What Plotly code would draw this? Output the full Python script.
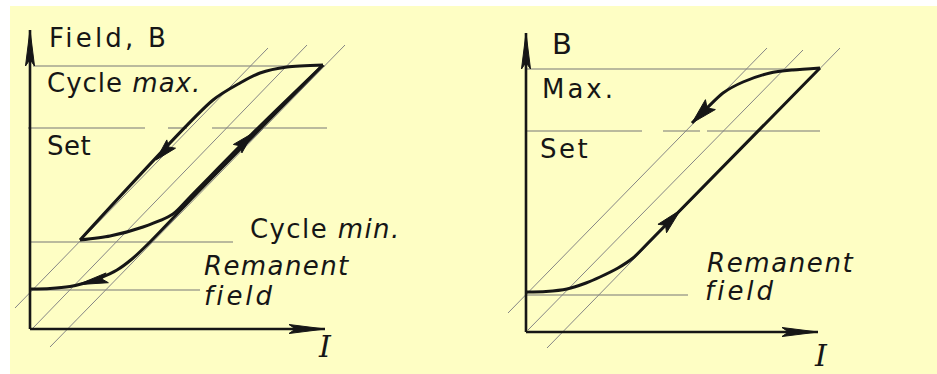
import numpy as np
import plotly.graph_objects as go

# ---------------- data (arbitrary units: I = current, B = field) ----------------
# Left panel: minor hysteresis cycle
L_outer_I = [0, 20, 40, 55, 70, 87, 102, 120, 170, 293]          # initial rise from remanent field
L_outer_B = [40, 40.5, 42.5, 46, 51, 59, 70, 87, 139, 264]
L_desc_I = [293, 257, 230, 210, 183, 50]                           # descending branch to cycle min
L_desc_B = [264, 262, 256, 246, 229, 89]
L_inner_I = [50, 80, 113, 143, 160, 228, 293]                      # ascending branch from cycle min
L_inner_B = [89, 93, 102, 115, 132, 201, 264]
L_levels = {"max": 263, "set": 201, "min": 87, "rem": 39}
L_level_ext = {"max": [(3, 295)], "set": [(-2, 115), (138, 157), (182, 297)],
               "min": [(0, 203)], "rem": [(0, 170)]}
L_diag_I = [(-15, 238), (3, 277), (20, 315)]
L_diag_B = [(21, 281), (1, 284), (-18, 284)]
L_axis_end = (295, 299)

# Right panel: full excursion
R_asc_I = [0, 20, 41, 60, 74, 92, 107, 124, 294]
R_asc_B = [40, 40.5, 43, 49, 55, 64, 74, 91, 264]
R_desc_I = [294, 267, 244, 217, 197, 180, 166]
R_desc_B = [264, 262, 259, 250, 239, 223, 209]
R_levels = {"max": 263, "set": 201, "rem": 37}
R_level_ext = {"max": [(0, 294)], "set": [(0, 116), (137, 174), (181, 294)], "rem": [(0, 162)]}
R_diag_I = [(-18, 241), (2, 277), (21, 314)]
R_diag_B = [(19, 284), (2, 282), (-16, 284)]
R_axis_end = (292, 299)

# labels: (text, I, B)
L_labels = [("Field, B", 17, 291), ("Cycle <i>max.</i>", 15, 246), ("Set", 15, 183),
            ("Cycle <i>min.</i>", 218, 100), ("<i>Remanent</i>", 172, 63), ("<i>field</i>", 172, 33)]
R_labels = [("B", 24, 288), ("Max.", 14, 243), ("Set", 12, 183),
            ("<i>Remanent</i>", 179, 69), ("<i>field</i>", 177, 41)]

# ---------------- styling ----------------
W, H = 937, 374
SPLIT = 468
INK = "#161616"
GUIDE = "#767676"
BG = "#FEFEC4"
FONT = "DejaVu Sans"
L_label_style = [(26, 3.2), (26, 1.0), (26, 0.5), (26, 1.4), (26, 1.4), (26, 3.0)]
R_label_style = [(29, 0), (26, 3.0), (26, 2.5), (26, 1.6), (26, 3.0)]

fig = go.Figure()


def locate(xs, ys, axis, value, sign):
    pts = np.column_stack([xs, ys]).astype(float)
    for i in range(len(pts) - 1):
        a, b = pts[i], pts[i + 1]
        v0, v1 = a[axis], b[axis]
        if v0 != v1 and (v0 - value) * (v1 - value) <= 0:
            t = (value - v0) / (v1 - v0)
            return a + t * (b - a), (b - a) * sign
    return pts[-1], (pts[-1] - pts[-2]) * sign


def arrow(tip, d, length, half, xa, ya):
    d = np.asarray(d, float)
    d = d / np.linalg.norm(d)
    p = np.array([-d[1], d[0]])
    tip = np.asarray(tip, float)
    base = tip - length * d
    notch = tip - 0.82 * length * d
    poly = [tip, base + half * p, notch, base - half * p, tip]
    fig.add_trace(go.Scatter(x=[q[0] for q in poly], y=[q[1] for q in poly], mode="lines",
                             fill="toself", fillcolor=INK, line=dict(color=INK, width=1),
                             xaxis=xa, yaxis=ya, hoverinfo="skip", showlegend=False))


def line(xs, ys, xa, ya, color=INK, width=3, shape="spline"):
    fig.add_trace(go.Scatter(x=xs, y=ys, mode="lines",
                             line=dict(color=color, width=width, shape=shape, smoothing=0.7),
                             xaxis=xa, yaxis=ya, hoverinfo="skip", showlegend=False))


def panel(xa, ya, levels, ext, diag_I, diag_B, axis_end, branches, arrows, labels, styles):
    # thin guides
    for k, b in levels.items():
        for (i0, i1) in ext[k]:
            line([i0, i1], [b, b], xa, ya, GUIDE, 1.1, "linear")
    for di, db in zip(diag_I, diag_B):
        line(list(di), list(db), xa, ya, "#858585", 1, "linear")
    # axes
    line([0, 0], [0, axis_end[1]], xa, ya, INK, 2.6, "linear")
    line([0, axis_end[0]], [0, 0], xa, ya, INK, 2.6, "linear")
    arrow((0, axis_end[1]), (0, 1), 36, 4.5, xa, ya)
    arrow((axis_end[0], 0), (1, 0), 36, 4.5, xa, ya)
    # curves
    for xs, ys in branches:
        line(xs, ys, xa, ya, INK, 3)
    for (bi, axis, val, sign, ln, hw) in arrows:
        xs, ys = branches[bi]
        tip, d = locate(xs, ys, axis, val, sign)
        arrow(tip, d, ln, hw, xa, ya)
    for (t, i, b), (sz, ls) in zip(labels, styles):
        fig.add_annotation(x=i, y=b, xref=xa, yref=ya,
                           text=f'<span style="letter-spacing:{ls}px">{t}</span>', showarrow=False,
                           xanchor="left", yanchor="middle",
                           font=dict(family=FONT, size=sz, color=INK))


panel("x", "y", L_levels, L_level_ext, L_diag_I, L_diag_B, L_axis_end,
      [(L_outer_I, L_outer_B), (L_desc_I, L_desc_B), (L_inner_I, L_inner_B)],
      [(0, 0, 48, -1, 30, 5), (1, 1, 169, 1, 22, 6), (2, 1, 196, 1, 22, 6)],
      L_labels, L_label_style)
panel("x2", "y2", R_levels, R_level_ext, R_diag_I, R_diag_B, R_axis_end,
      [(R_asc_I, R_asc_B), (R_desc_I, R_desc_B)],
      [(0, 1, 122, 1, 26, 6), (1, 1, 209, 1, 26, 7)],
      R_labels, R_label_style)

# current axis letters
fig.add_annotation(x=L_axis_end[0], y=-17, xref="x", yref="y", text="<i>I</i>", showarrow=False,
                   font=dict(family="DejaVu Serif", size=30, color=INK))
fig.add_annotation(x=R_axis_end[0] + 3, y=-23, xref="x2", yref="y2", text="<i>I</i>", showarrow=False,
                   font=dict(family="DejaVu Serif", size=30, color=INK))

ax = dict(visible=False, fixedrange=True)
fig.update_layout(
    width=W, height=H, margin=dict(l=0, r=0, t=0, b=0),
    paper_bgcolor="white", plot_bgcolor="rgba(0,0,0,0)", showlegend=False,
    xaxis=dict(domain=[0, SPLIT / W], range=[-30, SPLIT - 30], **ax),
    yaxis=dict(domain=[0, 1], range=[-45, 329], **ax),
    xaxis2=dict(domain=[SPLIT / W, 1], range=[SPLIT - 526, W - 526], **ax),
    yaxis2=dict(domain=[0, 1], range=[-42, 332], anchor="x2", **ax),
    shapes=[dict(type="rect", xref="paper", yref="paper", x0=10 / W, x1=1, y0=0, y1=(H - 6) / H,
                 fillcolor=BG, line=dict(width=0), layer="below")],
)

fig.write_html("out.html", config={"displayModeBar": False, "staticPlot": True},
               post_script="document.body.style.margin='0';document.body.style.overflow='hidden';")
